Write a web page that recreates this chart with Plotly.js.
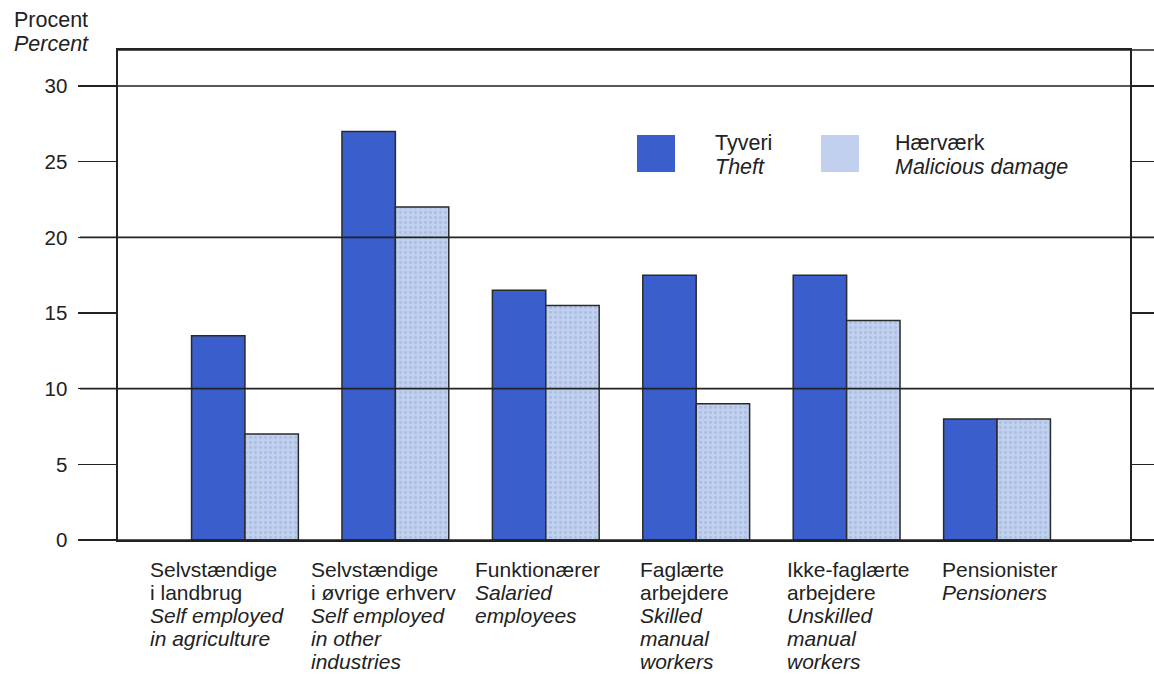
<!DOCTYPE html>
<html>
<head>
<meta charset="utf-8">
<script src="https://cdn.plot.ly/plotly-3.0.1.min.js"></script>
<style>
  html, body { margin: 0; padding: 0; background: #fff; }
  #chart { width: 1154px; height: 674px; }
</style>
</head>
<body>
<div id="chart"></div>
<script>
// ---- data ----
const categoriesDa = [
  ["Selvstændige", "i landbrug"],
  ["Selvstændige", "i øvrige erhverv"],
  ["Funktionærer"],
  ["Faglærte", "arbejdere"],
  ["Ikke-faglærte", "arbejdere"],
  ["Pensionister"]
];
const categoriesEn = [
  ["Self employed", "in agriculture"],
  ["Self employed", "in other", "industries"],
  ["Salaried", "employees"],
  ["Skilled", "manual", "workers"],
  ["Unskilled", "manual", "workers"],
  ["Pensioners"]
];
const seriesNamesDa = ["Tyveri", "Hærværk"];
const seriesNamesEn = ["Theft", "Malicious damage"];
const theft = [13.5, 27, 16.5, 17.5, 17.5, 8];
const damage = [7, 22, 15.5, 9, 14.5, 8];
const yTicks = [0, 5, 10, 15, 20, 25, 30];
const gridValues = [0, 10, 20, 30];
const yTitleDa = "Procent";
const yTitleEn = "Percent";

// ---- styles ----
const FONT = "Liberation Sans, Arial, Helvetica, sans-serif";
const FS = 21.5;
const TXT = "#222";
const theftColor = "#3a5fcd";
const damageColor = "#c0d0ee";
const edge = "#2a2a2a";

const xIdx = categoriesDa.map((_, i) => i);

const traces = [
  {
    type: "bar", x: xIdx, y: theft, name: seriesNamesEn[0], showlegend: false,
    marker: { color: theftColor, line: { color: edge, width: 1.5 } },
    hoverinfo: "y"
  },
  {
    type: "bar", x: xIdx, y: damage, name: seriesNamesEn[1], showlegend: false,
    marker: {
      color: damageColor, line: { color: edge, width: 1.5 },
      pattern: { shape: ".", fgcolor: "#a9bde2", bgcolor: damageColor, size: 5, solidity: 0.25 }
    },
    hoverinfo: "y"
  }
];

// plot geometry helpers (paper coords)
const L = 118, R = 1130, T = 50, B = 540;
const px = v => (v - L) / (R - L);
const py = v => (B - v) / (B - T);

const shapes = [];
gridValues.forEach(v => {
  shapes.push({ type: "line", xref: "paper", yref: "y", x0: px(80), x1: px(1160), y0: v, y1: v,
    line: { color: "#222", width: 1.6 } });
});
// top frame line extending to right edge
shapes.push({ type: "line", xref: "paper", yref: "paper", x0: 0, x1: px(1160), y0: 1, y1: 1,
  line: { color: "#222", width: 1.6 } });

// legend swatches
shapes.push({ type: "rect", xref: "paper", yref: "paper", x0: px(637), x1: px(675), y0: py(172), y1: py(135),
  fillcolor: theftColor, line: { width: 0 } });
shapes.push({ type: "rect", xref: "paper", yref: "paper", x0: px(821), x1: px(859), y0: py(172), y1: py(135),
  fillcolor: damageColor, line: { width: 0 } });

const annotations = [];
// each text line placed individually for tight line spacing
function addLines(lines, leftPx, firstCenterPx, spacing, size) {
  lines.forEach((ln, k) => {
    annotations.push({
      xref: "paper", yref: "paper", x: px(leftPx), y: py(firstCenterPx + k * spacing),
      xanchor: "left", yanchor: "middle", align: "left", showarrow: false,
      text: ln, font: { family: FONT, size: size || FS, color: TXT }
    });
  });
}
const it = s => "<i>" + s + "</i>";

// y axis title
addLines([yTitleDa, it(yTitleEn)], 12, 20, 24);

// legend texts
const legendX = [713, 893];
seriesNamesDa.forEach((n, i) => addLines([n, it(seriesNamesEn[i])], legendX[i], 143, 23.5));

// category labels (left-aligned blocks)
const labelLeft = [148, 309, 473, 638, 785, 940];
categoriesDa.forEach((da, i) => {
  addLines(da.concat(categoriesEn[i].map(it)), labelLeft[i], 569, 23, 21);
});

const layout = {
  width: 1154, height: 674,
  margin: { l: L, r: 1154 - R, t: T, b: 674 - B, pad: 0 },
  paper_bgcolor: "#fff", plot_bgcolor: "#fff",
  barmode: "group", bargap: 0.29, bargroupgap: 0,
  showlegend: false,
  xaxis: {
    range: [-0.844, 5.884], showticklabels: false, ticks: "", showgrid: false, zeroline: false,
    showline: true, linecolor: "#222", linewidth: 1.6, mirror: true, fixedrange: true
  },
  yaxis: {
    range: [0, 32.38], tickvals: yTicks, ticktext: yTicks.map(String),
    ticks: "outside", ticklen: 38, tickwidth: 1.6, tickcolor: "#222",
    showline: true, linecolor: "#222", linewidth: 1.6, mirror: "ticks",
    showgrid: false, zeroline: false, ticklabelstandoff: 7,
    tickfont: { family: FONT, size: 20.5, color: TXT }, fixedrange: true
  },
  shapes: shapes,
  annotations: annotations,
  font: { family: FONT }
};

Plotly.newPlot("chart", traces, layout, { staticPlot: true, displayModeBar: false });
</script>
</body>
</html>
